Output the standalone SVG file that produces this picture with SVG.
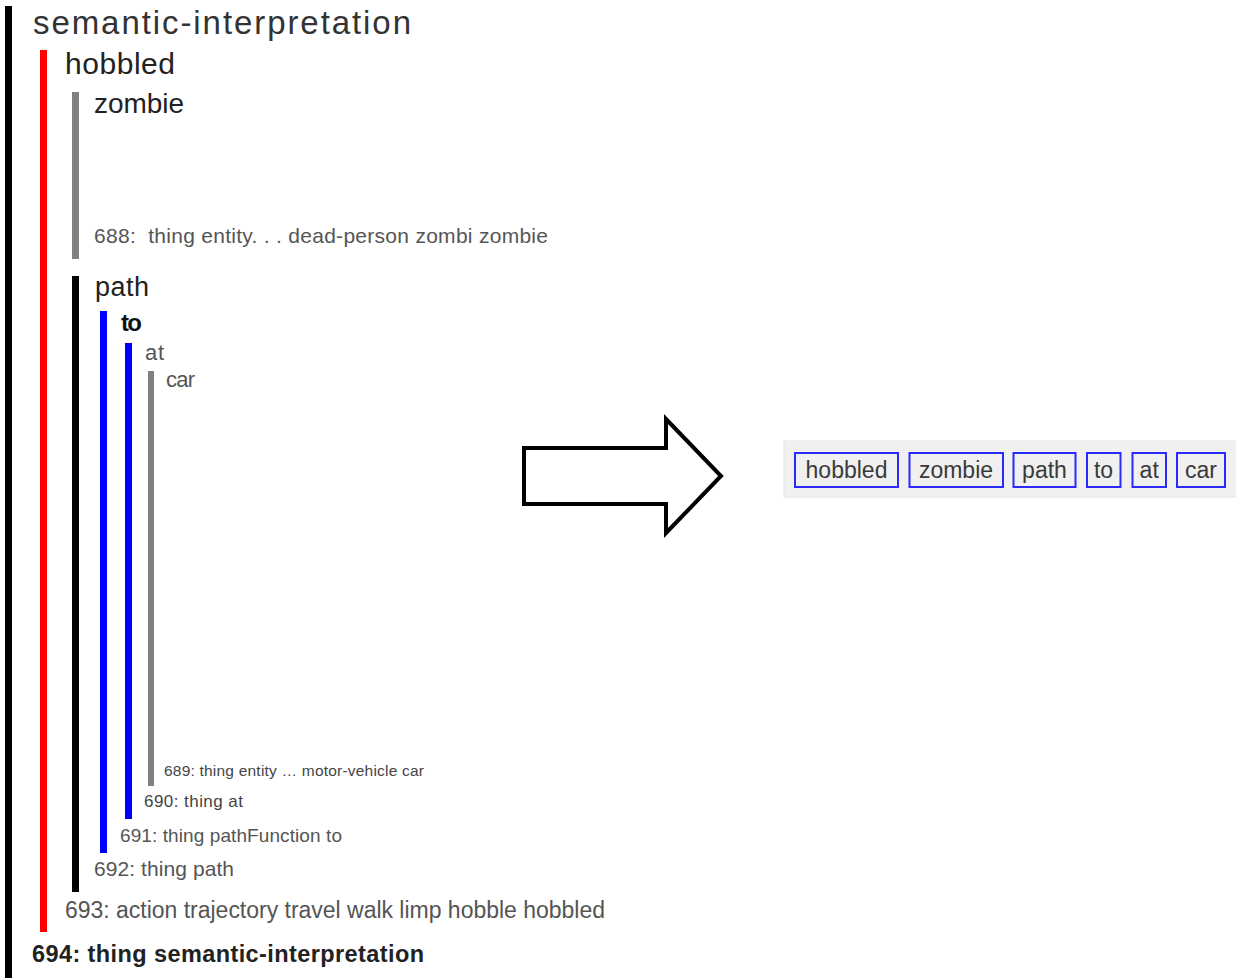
<svg xmlns="http://www.w3.org/2000/svg" width="1236" height="978" viewBox="0 0 1236 978">
<style>
text{font-family:"Liberation Sans",Arial,sans-serif}
.lbl{fill:#222}
.det{fill:#555}
.tok{fill:#f0f0f0;stroke:#2a2aff;stroke-width:2}
.tokt{font-size:23px;fill:#3a3a3a;text-anchor:middle}
</style>
<rect width="1236" height="978" fill="#fff"/>
<g id="n694">
<rect x="5" y="6" width="7" height="972" fill="#000"/>
<text x="33" y="34" font-size="33" fill="#333" textLength="378">semantic-interpretation</text>
<text x="32" y="962" font-size="23.5" font-weight="bold" fill="#222" textLength="392">694: thing semantic-interpretation</text>
</g>
<g id="n693">
<rect x="40" y="50" width="7" height="882" fill="#ff0000"/>
<text x="65" y="74" font-size="30" class="lbl" textLength="110">hobbled</text>
<text x="65" y="918" font-size="23" class="det" textLength="540">693: action trajectory travel walk limp hobble hobbled</text>
</g>
<g id="n688">
<rect x="72" y="92" width="7" height="167" fill="#808080"/>
<text x="94" y="113" font-size="28" class="lbl" textLength="90">zombie</text>
<text x="94" y="243" font-size="21" class="det" textLength="454" xml:space="preserve">688:  thing entity. . . dead-person zombi zombie</text>
</g>
<g id="n692">
<rect x="72" y="276" width="7" height="616" fill="#000"/>
<text x="95" y="296" font-size="27" class="lbl" textLength="54">path</text>
<text x="94" y="876" font-size="21" class="det" textLength="140">692: thing path</text>
</g>
<g id="n691">
<rect x="100" y="311" width="7" height="542" fill="#0000ff"/>
<text x="121" y="331" font-size="24" font-weight="bold" fill="#111" textLength="21">to</text>
<text x="120" y="842" font-size="19" class="det" textLength="222">691: thing pathFunction to</text>
</g>
<g id="n690">
<rect x="125" y="343" width="7" height="476" fill="#0000ff"/>
<text x="145" y="360" font-size="22" class="det" textLength="19">at</text>
<text x="144" y="807" font-size="17" fill="#444" textLength="99">690: thing at</text>
</g>
<g id="n689">
<rect x="148" y="371" width="6" height="415" fill="#808080"/>
<text x="166" y="387" font-size="22" class="det" textLength="29">car</text>
<text x="164" y="776" font-size="15.5" fill="#444" textLength="260">689: thing entity … motor-vehicle car</text>
</g>
<g id="connectors">
<polygon points="524,448 666,448 666,419 721,476 666,533 666,504 524,504" fill="#fff" stroke="#000" stroke-width="4" stroke-linejoin="miter"/>
</g>
<g id="tokens">
<rect x="784" y="441" width="460" height="56" fill="#f0f0f0" stroke="#e6e6e6" stroke-width="1"/>
<g id="tok-hobbled"><rect class="tok" x="795" y="453" width="103" height="34"/><text class="tokt" x="846.5" y="478">hobbled</text></g>
<g id="tok-zombie"><rect class="tok" x="909.5" y="453" width="93.5" height="34"/><text class="tokt" x="956" y="478">zombie</text></g>
<g id="tok-path"><rect class="tok" x="1013.5" y="453" width="62" height="34"/><text class="tokt" x="1044.5" y="478">path</text></g>
<g id="tok-to"><rect class="tok" x="1087" y="453" width="33.5" height="34"/><text class="tokt" x="1103.5" y="478">to</text></g>
<g id="tok-at"><rect class="tok" x="1132.5" y="453" width="33.5" height="34"/><text class="tokt" x="1149.2" y="478">at</text></g>
<g id="tok-car"><rect class="tok" x="1177" y="453" width="48" height="34"/><text class="tokt" x="1201" y="478">car</text></g>
</g>
</svg>
